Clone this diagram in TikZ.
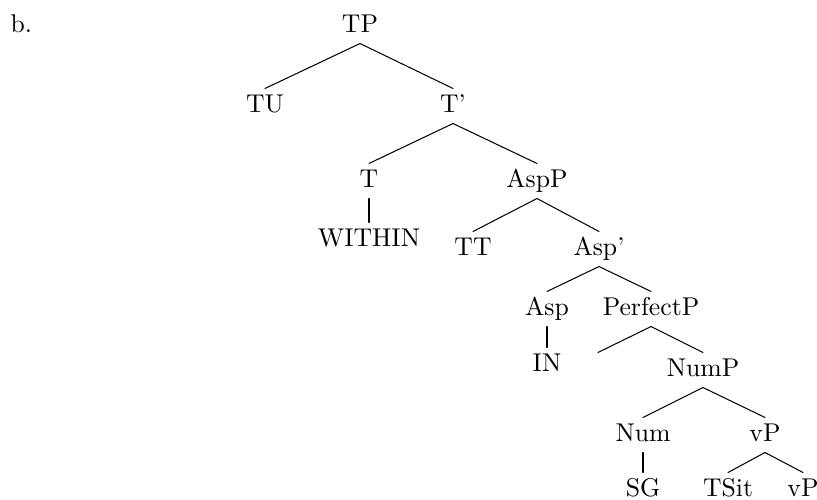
\documentclass[tikz,border=0pt]{standalone}
\begin{document}
\begin{tikzpicture}[x=0.389pt,y=-0.389pt,
  lbl/.style={inner sep=0pt, text height=8.95pt, text depth=4.28pt, anchor=base},
  branch/.style={line width=0.4pt, line cap=round}]
\useasboundingbox (0,0) rectangle (817,499);
% example label
\node[anchor=base west, inner sep=0pt] (ex) at (10,32) {b.};
% tree nodes
\node[lbl] (TP)   at (360,32)  {TP};
\node[lbl] (TU)   at (265,112) {TU};
\node[lbl] (Tb)   at (453,112) {T'};
\node[lbl] (T)    at (369,187) {T};
\node[lbl] (AspP) at (537,187) {AspP};
\node[lbl] (WI)   at (369,246) {WITHIN};
\node[lbl] (TT)   at (473,255) {TT};
\node[lbl] (Aspb) at (599,255) {Asp'};
\node[lbl] (Asp)  at (547,315) {Asp};
\node[lbl] (PfP)  at (651,315) {PerfectP};
\node[lbl] (IN)   at (547,371) {IN};
\node[lbl] (Emp)  at (598,376) {};
\node[lbl] (NumP) at (703,376) {NumP};
\node[lbl] (Num)  at (643,441) {Num};
\node[lbl] (vPa)  at (765,441) {vP};
\node[lbl] (SG)   at (643,496) {SG};
\node[lbl] (TSit) at (728,496) {TSit};
\node[lbl] (vPb)  at (803,496) {vP};
% branches
\draw[branch] (TP.south) -- (TU.north);
\draw[branch] (TP.south) -- (Tb.north);
\draw[branch] (Tb.south) -- (T.north);
\draw[branch] (Tb.south) -- (AspP.north);
\draw[branch] (T.south) -- (WI.north);
\draw[branch] (AspP.south) -- (TT.north);
\draw[branch] (AspP.south) -- (Aspb.north);
\draw[branch] (Aspb.south) -- (Asp.north);
\draw[branch] (Aspb.south) -- (PfP.north);
\draw[branch] (Asp.south) -- (IN.north);
\draw[branch] (PfP.south) -- (Emp.north);
\draw[branch] (PfP.south) -- (NumP.north);
\draw[branch] (NumP.south) -- (Num.north);
\draw[branch] (NumP.south) -- (vPa.north);
\draw[branch] (Num.south) -- (SG.north);
\draw[branch] (vPa.south) -- (TSit.north);
\draw[branch] (vPa.south) -- (vPb.north);
\end{tikzpicture}
\end{document}
